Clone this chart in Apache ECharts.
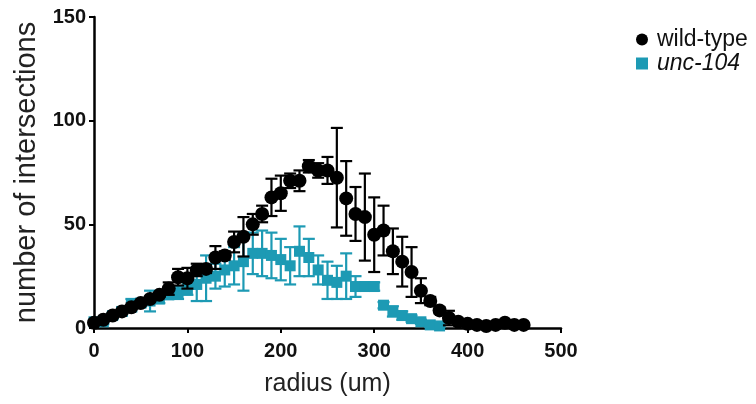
<!DOCTYPE html>
<html>
<head>
<meta charset="utf-8">
<script src="https://cdn.jsdelivr.net/npm/echarts@6/dist/echarts.min.js"></script>
<style>
  html, body { margin: 0; padding: 0; background: #fff; }
  #chart { width: 756px; height: 404px; }
</style>
</head>
<body>
<div id="chart"></div>
<script>
// radius (um) sampled every 10
const radiusWT = [0, 10, 20, 30, 40, 50, 60, 70, 80, 90, 100, 110, 120, 130, 140, 150, 160, 170, 180, 190,
  200, 210, 220, 230, 240, 250, 260, 270, 280, 290, 300, 310, 320, 330, 340, 350, 360, 370, 380, 390,
  400, 410, 420, 430, 440, 450, 460]
const meanWT = [2.5, 4, 6, 8, 10, 12, 14, 16, 19, 24.5, 24, 28, 28.5, 34, 35, 41.5, 44, 50, 55, 63,
  65, 71, 71, 78, 76, 76, 72.5, 62.5, 55, 53.5, 45, 47, 37, 32, 27, 18, 13, 8.5, 4.8, 3,
  2, 1.5, 1, 1.5, 2.5, 1.5, 1.5]
const errWT = [0.5, 0.5, 0.5, 0.5, 0.5, 0.8, 1, 1, 3, 4, 5, 3, 2, 5.5, 2, 5, 9.5, 5, 4, 9,
  8.5, 3.5, 5, 3, 3.5, 6.5, 24, 18, 13, 21, 18, 12, 11, 12, 12, 6, 2, 1.5, 3.5, 1,
  0.5, 0.3, 0.3, 0.3, 0.5, 0.3, 0.3]

const radiusUnc = [0, 10, 20, 30, 40, 50, 60, 70, 80, 90, 100, 110, 120, 130, 140, 150, 160, 170, 180, 190,
  200, 210, 220, 230, 240, 250, 260, 270, 280, 290, 300, 310, 320, 330, 340, 350, 360, 370]
const meanUnc = [3, 3, 6, 8, 11, 12, 13, 14, 16, 17, 19, 21, 24, 25, 28, 30, 32, 36, 36, 35,
  33, 30, 37, 34, 28, 23, 22, 25, 20, 20, 20, 11, 8, 6, 4.5, 3, 1.5, 1]
const errUnc = [1, 1, 1.5, 2, 3, 2, 5, 2, 2, 3, 3, 8, 11, 6, 8, 9, 14, 10, 11, 11,
  10, 9, 12, 9, 7, 9, 8, 11, 5, 2, 2, 1.5, 2.5, 2, 1.5, 1, 1, 0.5]

const xTicks = [0, 100, 200, 300, 400, 500]
const yTicks = [0, 50, 100, 150]

const black = '#000000'
const teal = '#1d9ab4'

function pairs(xs, ys) {
  return xs.map((x, i) => [x, ys[i]])
}
function triples(xs, ys, es) {
  return xs.map((x, i) => [x, ys[i], es[i]])
}

function errorBars(color) {
  return function(params, api) {
    const x = api.value(0)
    const y = api.value(1)
    const e = api.value(2)
    const top = api.coord([x, y + e])
    const bot = api.coord([x, y - e])
    const half = 6
    const style = { stroke: color, lineWidth: 2.2 }
    return {
      type: 'group',
      children: [
        { type: 'line', shape: { x1: top[0], y1: top[1], x2: bot[0], y2: bot[1] }, style },
        { type: 'line', shape: { x1: top[0] - half, y1: top[1], x2: top[0] + half, y2: top[1] }, style },
        { type: 'line', shape: { x1: bot[0] - half, y1: bot[1], x2: bot[0] + half, y2: bot[1] }, style }
      ]
    }
  }
}

const chart = echarts.init(document.getElementById('chart'))
chart.setOption({
  animation: false,
  backgroundColor: '#fff',
  textStyle: { fontFamily: 'Liberation Sans, Arial, sans-serif' },
  grid: { left: 94, right: 195, top: 17, bottom: 76, containLabel: false },
  legend: {
    data: [
      { name: 'wild-type', icon: 'circle' },
      { name: 'unc-104', icon: 'rect' }
    ],
    orient: 'vertical',
    left: 631,
    top: 23,
    itemWidth: 12,
    itemHeight: 12,
    itemGap: 1,
    textStyle: {
      fontSize: 23,
      color: '#111',
      padding: [0, 0, 0, 4],
      rich: { i: { fontStyle: 'italic', fontSize: 23, color: '#111' } }
    },
    formatter: name => name === 'unc-104' ? '{i|' + name + '}' : name
  },
  xAxis: {
    type: 'value',
    min: 0,
    max: 500,
    interval: 100,
    name: 'radius (um)',
    nameLocation: 'middle',
    nameGap: 44,
    nameTextStyle: { fontSize: 25, color: '#222' },
    axisLine: { show: true, onZero: false, lineStyle: { color: black, width: 2.5 } },
    axisTick: { show: true, length: 5, lineStyle: { color: black, width: 2 } },
    axisLabel: {
      fontSize: 20, fontWeight: 'bold', color: '#111', margin: 13,
      formatter: v => xTicks.includes(v) ? String(v) : ''
    },
    splitLine: { show: false }
  },
  yAxis: {
    type: 'value',
    min: 0,
    max: 150,
    interval: 50,
    name: 'number of intersections',
    nameLocation: 'middle',
    nameGap: 50,
    nameTextStyle: { fontSize: 29, color: '#222' },
    axisLine: { show: true, onZero: false, lineStyle: { color: black, width: 2.5 } },
    axisTick: { show: true, length: 5, lineStyle: { color: black, width: 2 } },
    axisLabel: {
      fontSize: 20, fontWeight: 'bold', color: '#111', margin: 8,
      formatter: v => yTicks.includes(v) ? String(v) : ''
    },
    splitLine: { show: false }
  },
  series: [
    {
      name: 'unc-104 err',
      type: 'custom',
      renderItem: errorBars(teal),
      data: triples(radiusUnc, meanUnc, errUnc),
      z: 1,
      clip: false
    },
    {
      name: 'unc-104',
      type: 'scatter',
      symbol: 'rect',
      symbolSize: 11,
      itemStyle: { color: teal, opacity: 1 },
      data: pairs(radiusUnc, meanUnc),
      z: 2
    },
    {
      name: 'wild-type err',
      type: 'custom',
      renderItem: errorBars(black),
      data: triples(radiusWT, meanWT, errWT),
      z: 3,
      clip: false
    },
    {
      name: 'wild-type',
      type: 'scatter',
      symbol: 'circle',
      symbolSize: 14,
      itemStyle: { color: black, opacity: 1 },
      data: pairs(radiusWT, meanWT),
      z: 4
    }
  ]
})
</script>
</body>
</html>
